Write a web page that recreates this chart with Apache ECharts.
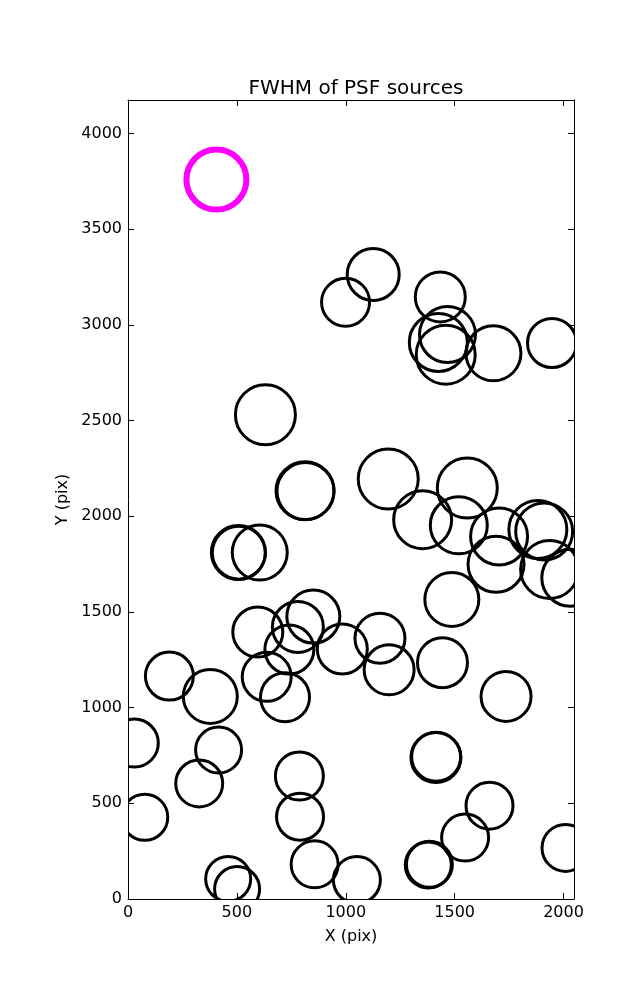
<!DOCTYPE html>
<html>
<head>
<meta charset="utf-8">
<script src="https://cdn.jsdelivr.net/npm/echarts@6/dist/echarts.min.js"></script>
<style>html,body{margin:0;padding:0;background:#fff;}#c{width:637px;height:1000px;}</style>
</head>
<body>
<div id="c"></div>
<script>
// Source positions (pixel coordinates on detector) and marker diameters (FWHM-scaled, px)
const srcX = [1126, 999, 1434, 1467, 1425, 1459, 1678, 1947, 631, 813, 815, 1195, 1558, 1353, 1519, 1704, 1882, 1911, 1690, 1936, 2031, 507, 509, 605, 1487, 851, 780, 596, 741, 984, 1157, 1199, 1444, 190, 637, 721, 378, 1736, 29, 416, 1414, 1415, 787, 327, 1660, 77, 790, 1548, 2009, 857, 1379, 1384, 460, 1051, 501];
const srcY = [3264, 3119, 3147, 2950, 2909, 2845, 2852, 2906, 2531, 2134, 2132, 2195, 2148, 1982, 1953, 1895, 1931, 1921, 1749, 1722, 1679, 1811, 1810, 1811, 1566, 1476, 1422, 1395, 1304, 1307, 1363, 1198, 1235, 1165, 1161, 1055, 1059, 1059, 815, 779, 739, 743, 643, 604, 488, 427, 430, 321, 267, 181, 178, 181, 105, 99, 52];
const srcSize = [55, 51, 53, 59, 61, 62, 58, 52, 63, 61, 60, 63, 63, 61, 60, 60, 61, 60, 59, 61, 60, 57, 56, 58, 57, 56, 54, 53, 52, 53, 53, 53, 53, 51, 52, 52, 57, 53, 51, 49, 53, 52, 51, 50, 50, 49, 50, 50, 50, 50, 49, 49, 48, 50, 48];
// Highlighted source
const refX = [406];
const refY = [3760];
const refSize = [66];

const xTicks = [0, 500, 1000, 1500, 2000];
const yTicks = [0, 500, 1000, 1500, 2000, 2500, 3000, 3500, 4000];
const xMax = 2048, yMax = 4176;

const blackData = srcX.map((x, i) => [x, srcY[i], srcSize[i]]);
const refData = refX.map((x, i) => [x, refY[i], refSize[i]]);

const FONT = 'DejaVu Sans';
const G = {left: 128, right: 63, top: 100, bottom: 101};

function mkX(pos, show) {
  return {
    type: 'value', min: 0, max: xMax, interval: 500, position: pos, gridIndex: 0, z: 10,
    name: show ? 'X (pix)' : '', nameLocation: 'middle', nameGap: 30,
    nameTextStyle: {fontFamily: FONT, fontSize: 16, color: '#000'},
    axisLine: {show: true, onZero: false, lineStyle: {color: '#000', width: 1}},
    axisTick: {show: true, inside: true, length: 6, lineStyle: {color: '#000', width: 1},
      customValues: xTicks},
    axisLabel: {show: show, margin: 6, fontFamily: FONT, fontSize: 16, color: '#000',
      customValues: xTicks, formatter: v => String(v)},
    splitLine: {show: false}
  };
}
function mkY(pos, show) {
  return {
    type: 'value', min: 0, max: yMax, interval: 500, position: pos, gridIndex: 0, z: 10,
    name: show ? 'Y (pix)' : '', nameLocation: 'middle', nameGap: 57,
    nameTextStyle: {fontFamily: FONT, fontSize: 16, color: '#000'},
    axisLine: {show: true, onZero: false, lineStyle: {color: '#000', width: 1}},
    axisTick: {show: true, inside: true, length: 6, lineStyle: {color: '#000', width: 1},
      customValues: yTicks},
    axisLabel: {show: show, margin: 6, fontFamily: FONT, fontSize: 16, color: '#000',
      customValues: yTicks, formatter: v => String(v)},
    splitLine: {show: false}
  };
}

const chart = echarts.init(document.getElementById('c'), null, {renderer: 'canvas'});
chart.setOption({
  animation: false,
  backgroundColor: '#fff',
  title: {
    text: 'FWHM of PSF sources', left: 351, top: 74, textAlign: 'center',
    textStyle: {fontFamily: FONT, fontSize: 20, fontWeight: 'normal', color: '#000'}, z: 12
  },
  grid: {left: G.left, right: G.right, top: G.top, bottom: G.bottom, containLabel: false},
  xAxis: [mkX('bottom', true), mkX('top', false)],
  yAxis: [mkY('left', true), mkY('right', false)],
  graphic: [
    {type: 'rect', z: 5, silent: true, shape: {x: 0, y: 0, width: G.left, height: 1000}, style: {fill: '#fff'}},
    {type: 'rect', z: 5, silent: true, shape: {x: 637 - G.right, y: 0, width: G.right, height: 1000}, style: {fill: '#fff'}},
    {type: 'rect', z: 5, silent: true, shape: {x: 0, y: 1000 - G.bottom, width: 637, height: G.bottom}, style: {fill: '#fff'}},
    {type: 'rect', z: 5, silent: true, shape: {x: 0, y: 0, width: 637, height: G.top}, style: {fill: '#fff'}}
  ],
  series: [
    {
      type: 'scatter', xAxisIndex: 0, yAxisIndex: 0, data: blackData, z: 2,
      symbol: 'circle', symbolSize: v => v[2] - 3,
      itemStyle: {color: 'rgba(0,0,0,0)', borderColor: '#000', borderWidth: 3, opacity: 1},
      emphasis: {disabled: true}
    },
    {
      type: 'scatter', xAxisIndex: 0, yAxisIndex: 0, data: refData, z: 3,
      symbol: 'circle', symbolSize: v => v[2] - 6,
      itemStyle: {color: 'rgba(0,0,0,0)', borderColor: '#ff00ff', borderWidth: 6, opacity: 1},
      emphasis: {disabled: true}
    }
  ]
});
</script>
</body>
</html>
